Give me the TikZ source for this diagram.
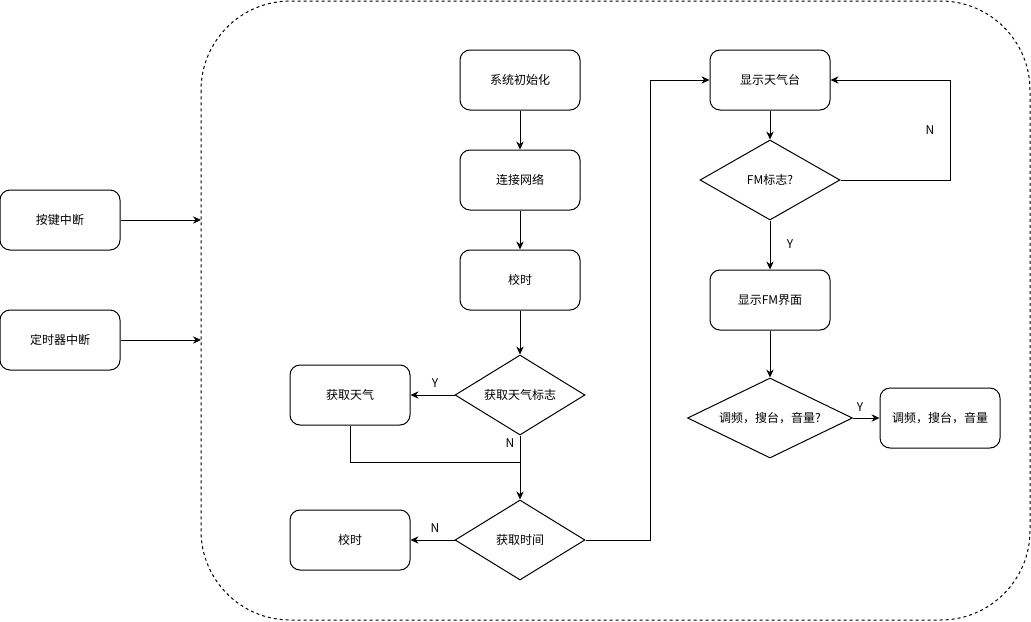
\documentclass[tikz,border=0pt]{standalone}
\usepackage{fontspec}
\setmainfont{Noto Sans CJK SC}
\usetikzlibrary{shapes.geometric,arrows.meta}
\begin{document}
\begin{tikzpicture}[x=0.75pt,y=-0.75pt,
  every node/.style={font=\fontsize{9}{11}\selectfont},
  procbox/.style={draw,rounded corners=7.5pt,minimum width=90pt,minimum height=45pt,inner sep=0pt,line width=0.75pt},
  decide/.style={draw,diamond,shape aspect=2,inner sep=0pt,minimum width=97.5pt,minimum height=60pt,line width=0.75pt},
  link/.style={line width=0.75pt,-{Stealth[length=6pt,width=5.5pt]}},
  plain/.style={line width=0.75pt},
  lbl/.style={font=\fontsize{9}{11}\selectfont}]
\useasboundingbox (0,0) rectangle (1031,621);
% outer dashed frame
\draw[line width=0.75pt,dash pattern=on 2.25pt off 2.25pt,rounded corners=67pt] (201,1) rectangle (1030,620);
% interrupts
\node[procbox] (kb) at (60,220) {按键中断};
\node[procbox] (tm) at (60,340) {定时器中断};
\coordinate (kbe) at (201,220);
\coordinate (tme) at (201,340);
\draw[link] (kb.east) -- (kbe);
\draw[link] (tm.east) -- (tme);
% main column
\node[procbox] (init) at (520,80) {系统初始化};
\node[procbox] (net) at (520,180) {连接网络};
\node[procbox] (cal) at (520,280) {校时};
\node[decide] (dw) at (520,395) {获取天气标志};
\node[procbox] (gw) at (350,395) {获取天气};
\node[decide] (dt) at (520,540) {获取时间};
\node[procbox] (cal2) at (350,540) {校时};
% right column
\node[procbox] (wt) at (770,80) {显示天气台};
\node[decide,minimum width=105pt] (fm) at (770,180) {FM标志?};
\node[procbox] (fmui) at (770,300) {显示FM界面};
\node[decide,minimum width=123.75pt] (adj) at (770,418) {调频，搜台，音量?};
\node[procbox] (adjb) at (940,418) {调频，搜台，音量};
% connectors
\draw[link] (init) -- (net);
\draw[link] (net) -- (cal);
\draw[link] (cal) -- (dw);
\draw[link] (dw.west) -- (gw.east);
\draw[link] (dw.south) -- (dt.north);
\coordinate (j) at (520,462);
\draw[plain] (gw.south) |- (j);
\draw[link] (dt.west) -- (cal2.east);
\coordinate (r1) at (650,540);
\draw[link] (dt.east) -- (r1) |- (wt.west);
\draw[link] (wt) -- (fm);
\coordinate (r2) at (950,180);
\draw[link] (fm.east) -- (r2) |- (wt.east);
\draw[link] (fm.south) -- (fmui.north);
\draw[link] (fmui.south) -- (adj.north);
\draw[link] (adj.east) -- (adjb.west);
% labels
\node[lbl] (ly1) at (435,383) {Y};
\node[lbl] (ln1) at (510,443) {N};
\node[lbl] (ln2) at (435,528) {N};
\node[lbl] (ln3) at (930,130) {N};
\node[lbl] (ly2) at (790,244) {Y};
\node[lbl] (ly3) at (860,407) {Y};
\end{tikzpicture}
\end{document}
